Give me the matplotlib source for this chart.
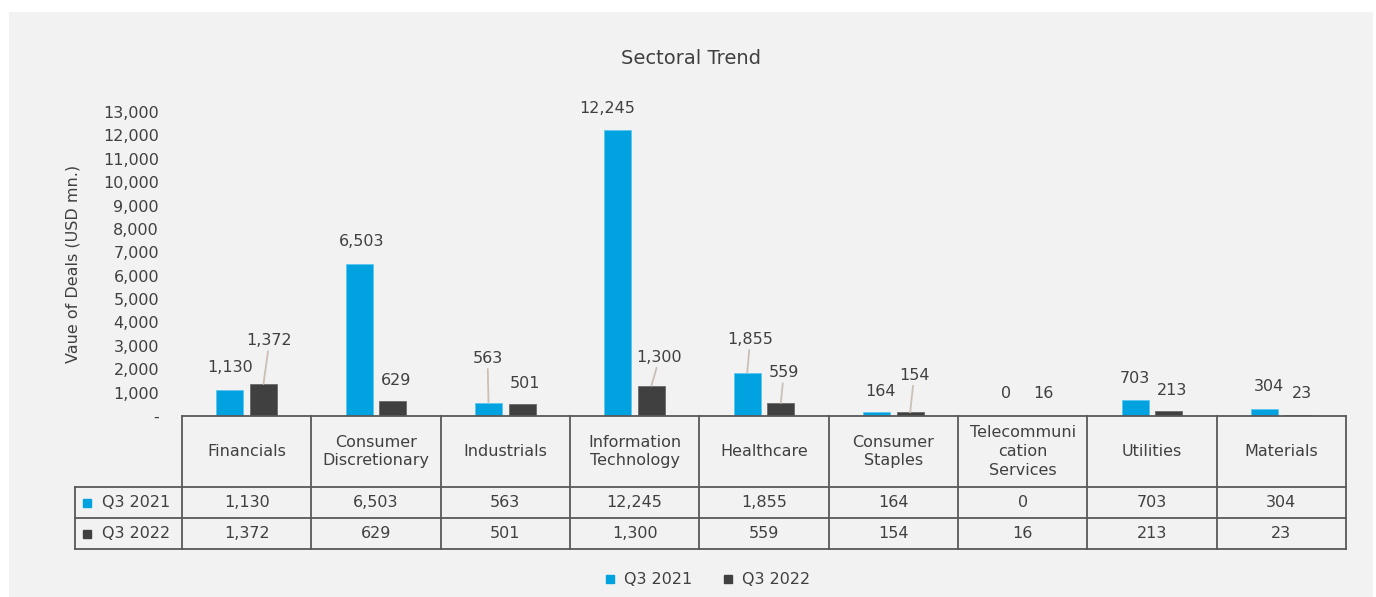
import numpy as np
import matplotlib
matplotlib.use('Agg')
import matplotlib.pyplot as plt
from matplotlib.patches import Rectangle
from matplotlib.lines import Line2D
from matplotlib.transforms import blended_transform_factory

plt.rcParams['font.family'] = 'DejaVu Sans'

####################
## data
####################
categories = ["Financials", "Consumer\nDiscretionary", "Industrials",
              "Information\nTechnology", "Healthcare", "Consumer\nStaples",
              "Telecommuni\ncation\nServices", "Utilities", "Materials"]
series_names = ["Q3 2021", "Q3 2022"]
q3_2021 = [1130, 6503, 563, 12245, 1855, 164, 0, 703, 304]
q3_2022 = [1372, 629, 501, 1300, 559, 154, 16, 213, 23]
yticks = np.arange(0, 13001, 1000)

# label offsets from bar top (pixels: dx, dy) and leader flag
off_2021 = [(0, 22, 0), (2, 22, 0), (-1, 44, 1), (-11, 21, 0), (3, 33, 1),
            (4, 21, 0), (0, 22, 0), (0, 21, 0), (4, 22, 0)]
off_2022 = [(6, 43, 1), (3, 21, 0), (3, 21, 0), (8, 28, 1), (3, 30, 1),
            (4, 37, 1), (4, 22, 0), (3, 21, 0), (4, 22, 0)]

c_blue = '#00a3e0'
c_dark = '#404040'
c_text = '#404040'
c_line = '#595959'
c_lead = '#cbbfb6'
fs = 11.5

W, H = 1376, 597
fig = plt.figure(figsize=(W / 100, H / 100), dpi=100)
fig.patch.set_facecolor('white')
fig.patches.append(Rectangle((9 / W, 0), (1373 - 9) / W, (597 - 12) / H,
                             transform=fig.transFigure, facecolor='#f2f2f2',
                             edgecolor='none', zorder=-10))

ax = fig.add_axes([182 / W, (H - 416) / H, (1346 - 182) / W, (416 - 112) / H])
ax.set_facecolor('none')
for s in ax.spines.values():
    s.set_visible(False)
ax.set_xlim(-0.5, len(categories) - 0.5)
ax.set_ylim(0, 13000)
ax.set_xticks([])
ax.set_yticks(yticks)
ax.set_yticklabels(['-' if v == 0 else f"{v:,}" for v in yticks])
ax.tick_params(axis='y', length=0, pad=16.5, labelsize=fs, labelcolor=c_text)
ax.set_ylabel("Vaue of Deals (USD mn.)", fontsize=fs, color=c_text, labelpad=16)

x = np.arange(len(categories))
bw = 0.21
b1 = ax.bar(x - 0.13, q3_2021, bw, color=c_blue, edgecolor='#5cc6ee', linewidth=0.6, zorder=3)
b2 = ax.bar(x + 0.13, q3_2022, bw, color=c_dark, edgecolor='#6a6a6a', linewidth=0.6, zorder=3)

for bars, vals, offs in [(b1, q3_2021, off_2021), (b2, q3_2022, off_2022)]:
    for b, v, (dx, dy, lead) in zip(bars, vals, offs):
        xc = b.get_x() + b.get_width() / 2
        kw = {}
        if lead:
            kw['arrowprops'] = dict(arrowstyle='-', color=c_lead, lw=1.3,
                                    shrinkA=0, shrinkB=0)
        ax.annotate(f"{v:,}", xy=(xc, v), xytext=(dx * 0.72, dy * 0.72),
                    textcoords='offset points', ha='center', va='center',
                    fontsize=fs, color=c_text, annotation_clip=False, **kw)

fig.text(691 / W, 1 - 59 / H, "Sectoral Trend", fontsize=14, color=c_text,
         ha='center', va='center')

####################
## data table
####################
tr = blended_transform_factory(ax.transData, ax.transAxes)
px = 304.0
y_hdr = -(487 - 416) / px
y_r1 = -(518 - 416) / px
y_r2 = -(549 - 416) / px
x_lab = (75 - 182) / 129.33 - 0.5
n = len(categories)
lk = dict(color=c_line, lw=1.3, transform=tr, clip_on=False, zorder=4)

ax.plot([-0.5, n - 0.5], [0, 0], **lk)
for k in range(n + 1):
    ax.plot([k - 0.5, k - 0.5], [0, y_r2], **lk)
for yy in [y_hdr, y_r1, y_r2]:
    ax.plot([x_lab, n - 0.5], [yy, yy], **lk)
ax.plot([x_lab, x_lab], [y_hdr, y_r2], **lk)

for i, c in enumerate(categories):
    ax.text(i, y_hdr / 2, c, ha='center', va='center', fontsize=fs,
            color=c_text, transform=tr, linespacing=1.3)
    ax.text(i, (y_hdr + y_r1) / 2, f"{q3_2021[i]:,}", ha='center', va='center',
            fontsize=fs, color=c_text, transform=tr)
    ax.text(i, (y_r1 + y_r2) / 2, f"{q3_2022[i]:,}", ha='center', va='center',
            fontsize=fs, color=c_text, transform=tr)

x_sq = (87 - 182) / 129.33 - 0.5
x_nm = (102 - 182) / 129.33 - 0.5
for yy, nm, col in [((y_hdr + y_r1) / 2, series_names[0], c_blue),
                    ((y_r1 + y_r2) / 2, series_names[1], c_dark)]:
    ax.plot([x_sq], [yy], marker='s', ms=6, color=col, transform=tr, clip_on=False)
    ax.text(x_nm, yy, nm, ha='left', va='center', fontsize=fs, color=c_text,
            transform=tr)

handles = [Line2D([], [], ls='none', marker='s', ms=6, color=c_blue),
           Line2D([], [], ls='none', marker='s', ms=6, color=c_dark)]
fig.legend(handles, series_names, loc='center', bbox_to_anchor=(707 / W, 1 - 580 / H),
           ncol=2, frameon=False, fontsize=fs, labelcolor=c_text,
           handlelength=0.8, handletextpad=0.5, columnspacing=1.8)

fig.savefig('out.png', dpi=100, facecolor=fig.get_facecolor())
